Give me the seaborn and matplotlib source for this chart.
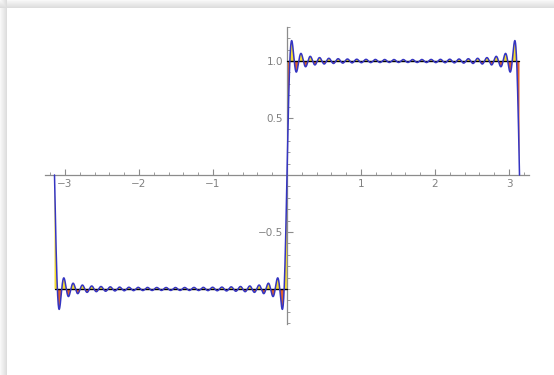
import numpy as np
import seaborn as sns
import matplotlib.pyplot as plt
from matplotlib.ticker import MultipleLocator, FixedLocator, FixedFormatter

# square wave sign(x) on [-pi, pi] and its Fourier partial sum
x_min, x_max = -np.pi, np.pi
n_terms = 25                      # odd harmonics 1, 3, ..., 49
step_levels = [-1.0, 1.0]         # value of the step on each side of 0

x_ticks = [-3, -2, -1, 1, 2, 3]
x_labels = ["\u22123", "\u22122", "\u22121", "1", "2", "3"]
y_ticks = [-0.5, 0.5, 1.0]
y_labels = ["\u22120.5", "0.5", "1.0"]

x = np.linspace(x_min, x_max, 4000)
harmonics = 2 * np.arange(n_terms) + 1
fourier = 4 / np.pi * np.sum(np.sin(np.outer(harmonics, x)) / harmonics[:, None], axis=0)
step = np.where(x < 0, step_levels[0], step_levels[1])

sns.set_style("white")
plt.rcParams['font.family'] = ['DejaVu Sans']

fig = plt.figure(figsize=(5.54, 3.75), dpi=100)

# card shadow along top and left edges
bg = fig.add_axes([0, 0, 1, 1])
h, w = 375, 554
yy, xx = np.mgrid[0:h, 0:w]
shade = np.ones((h, w))
top = (yy < 8)
left = (xx < 7)
shade[top] = 0.97 - 0.12 * (yy[top] / 8)
shade[left] = np.minimum(shade[left], 0.97 - 0.12 * (xx[left] / 7))
bg.imshow(shade, cmap="gray", vmin=0, vmax=1, aspect="auto", interpolation="bilinear")
bg.axis("off")

ax = fig.add_axes([45 / 554, (375 - 324.3) / 375, 484 / 554, 297.5 / 375])
ax.patch.set_alpha(0)

# filling between partial sum and the step: yellow above, orange-red below
ax.fill_between(x, fourier, step, where=fourier >= step, interpolate=True,
                color="#f4dc30", linewidth=0)
ax.fill_between(x, fourier, step, where=fourier < step, interpolate=True,
                color="#e0602a", linewidth=0)

for side, level in zip([x < 0, x >= 0], step_levels):
    ax.plot([x[side][0], x[side][-1]], [level, level], color="black", lw=1.0, zorder=3)

sns.lineplot(x=x, y=fourier, ax=ax, color="#3535c2", lw=1.1, sort=False, zorder=4)

ax.set_xlim(-3.27, 3.27)
ax.set_ylim(-1.31, 1.30)

for s in ["top", "right"]:
    ax.spines[s].set_visible(False)
for s in ["left", "bottom"]:
    ax.spines[s].set_position("zero")
    ax.spines[s].set_color("#8c8c8c")
    ax.spines[s].set_linewidth(0.9)

ax.xaxis.set_major_locator(FixedLocator(x_ticks))
ax.xaxis.set_major_formatter(FixedFormatter(x_labels))
ax.xaxis.set_minor_locator(MultipleLocator(0.2))
ax.yaxis.set_major_locator(FixedLocator(y_ticks))
ax.yaxis.set_major_formatter(FixedFormatter(y_labels))
ax.yaxis.set_minor_locator(MultipleLocator(0.1))

ax.tick_params(which="both", direction="in", color="#8c8c8c", labelcolor="#808080",
               labelsize=7.5, bottom=True, left=True)
ax.tick_params(which="major", length=4, width=0.8)
ax.tick_params(which="minor", length=2.5, width=0.6)
ax.tick_params(axis="x", pad=3)
ax.tick_params(axis="y", pad=3)

fig.savefig("out.png", dpi=100)
